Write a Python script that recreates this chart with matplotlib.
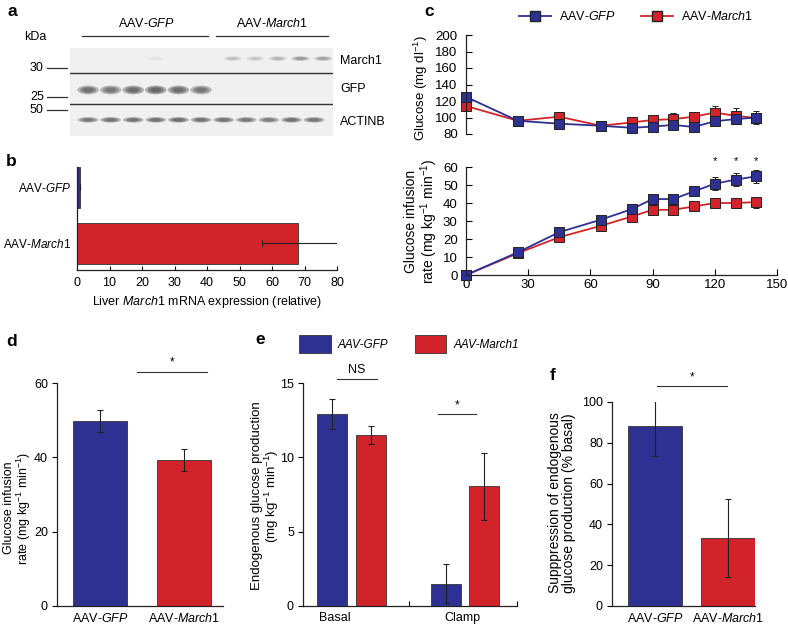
import numpy as np
import matplotlib.pyplot as plt
from matplotlib.patches import Ellipse, Patch
from matplotlib.lines import Line2D

plt.rcParams['font.family'] = ['Liberation Sans', 'DejaVu Sans']
plt.rcParams['mathtext.fontset'] = 'custom'
plt.rcParams['mathtext.rm'] = 'Liberation Sans'
plt.rcParams['mathtext.it'] = 'Liberation Sans:italic'
plt.rcParams['mathtext.bf'] = 'Liberation Sans:bold'
plt.rcParams['axes.linewidth'] = 0.9
plt.rcParams['axes.edgecolor'] = '#222222'

BLUE = '#2e3192'
RED = '#d2232a'
W, H = 788, 626

# ---- data ----
# a: western blot band intensities (6 GFP lanes, 5 March1 lanes)
lanes = np.arange(11)
march1_band = [0, 0, 0, 0.04, 0, 0, 0.22, 0.18, 0.28, 0.45, 0.4]
gfp_band = [0.75, 0.7, 0.8, 0.85, 0.8, 0.7, 0, 0, 0, 0, 0]
actinb_band = [0.7, 0.75, 0.72, 0.75, 0.8, 0.75, 0.75, 0.7, 0.65, 0.75, 0.72]

# b: liver March1 mRNA
mrna_groups = ['AAV-$\\mathit{GFP}$', 'AAV-$\\mathit{March1}$']
mrna_mean = [1.0, 68.0]
mrna_err_lo = [0, 11.0]
mrna_err_hi = [0, 13.0]

# c: clamp time course
time_min = [0, 25, 45, 65, 80, 90, 100, 110, 120, 130, 140]
glu_gfp = [125, 96, 92.5, 90, 87.5, 89, 91, 88.5, 95.5, 98, 100]
glu_gfp_err = [4, 2, 5, 2, 3, 3, 4, 4, 4, 3, 8]
glu_m1 = [114, 96, 101, 90, 94, 97, 98, 101, 106, 102, 99.5]
glu_m1_err = [3, 2, 5, 2, 3, 4, 8, 5, 8, 10, 5]
gir_gfp = [0, 12.6, 23.8, 30.7, 36.6, 42.2, 42.2, 46.5, 50.7, 53, 54.8]
gir_gfp_err = [0.5, 1.5, 2, 2, 2, 2.5, 2.5, 2.5, 3.5, 3.5, 3.5]
gir_m1 = [0, 12.1, 21, 27.3, 32.5, 36.2, 36.2, 38.1, 40, 40, 40.5]
gir_m1_err = [0.5, 1.5, 2, 2, 2, 2.5, 2.5, 2.5, 3, 3, 3]
star_times = [120, 130, 140]

# d: steady-state GIR
gir_groups = ['AAV-$\\mathit{GFP}$', 'AAV-$\\mathit{March1}$']
gir_mean = [49.8, 39.2]
gir_err = [3.0, 3.0]

# e: endogenous glucose production
egp_conditions = ['Basal', 'Clamp']
egp_gfp = [12.9, 1.5]
egp_gfp_err = [1.0, 1.3]
egp_m1 = [11.5, 8.05]
egp_m1_err = [0.6, 2.25]

# f: suppression of EGP
supp_mean = [88.0, 33.3]
supp_err = [14.4, 19.0]


def box(l, t, r, b):
    # pixel box -> figure fraction rect
    return [l / W, 1 - b / H, (r - l) / W, (b - t) / H]


def ftext(x, y, s, **kw):
    fig.text(x / W, 1 - y / H, s, **kw)


fig = plt.figure(figsize=(7.88, 6.26), dpi=100)

ekw = dict(ecolor='#222222', elinewidth=0.8, capsize=2.2, capthick=0.8)

# ---------------- a ----------------
axa = fig.add_axes(box(70, 48, 333, 136))
axa.set_facecolor('#f0f0f0')
axa.set_xlim(-0.8, 10.84)
axa.set_ylim(3, 0)
for s in axa.spines.values():
    s.set_visible(False)
axa.set_xticks([])
axa.set_yticks([])
# each band drawn as a soft stack of ellipses
for i in lanes:
    for k, sc in enumerate([1.0, 0.75, 0.5]):
        axa.add_patch(Ellipse((i + 0.4 * (i > 5), 0.36), 0.8 * sc, 0.16 * sc, color='#404040',
                              alpha=march1_band[i] * 0.45, lw=0))
        axa.add_patch(Ellipse((i, 1.43), 0.95 * sc, 0.3 * sc, color='#404040',
                              alpha=gfp_band[i] * 0.45, lw=0))
        axa.add_patch(Ellipse((i, 2.45), 0.92 * sc, 0.19 * sc, color='#404040',
                              alpha=actinb_band[i] * 0.45, lw=0))
axa.axhline(0.85, color='#333333', lw=1.0)
axa.axhline(1.91, color='#333333', lw=1.0)
for yy, lab in zip([0.68, 1.67, 2.11], ['30', '25', '50']):
    axa.plot([-0.087, -0.011], [1 - yy / 3, 1 - yy / 3], color='#333333', lw=0.9,
             transform=axa.transAxes, clip_on=False)
    axa.text(-0.1, 1 - yy / 3, lab, transform=axa.transAxes, ha='right', va='center', fontsize=9)
axa.plot([-0.27, 5.31], [-0.41, -0.41], color='#333333', lw=0.9, clip_on=False)
axa.plot([5.66, 10.6], [-0.41, -0.41], color='#333333', lw=0.9, clip_on=False)
axa.text(2.6, -0.62, 'AAV-$\\mathit{GFP}$', ha='center', va='bottom', fontsize=9)
axa.text(8.14, -0.62, 'AAV-$\\mathit{March1}$', ha='center', va='bottom', fontsize=9)
for yy, lab in zip([0.44, 1.4, 2.52], ['March1', 'GFP', 'ACTINB']):
    axa.text(11.15, yy, lab, ha='left', va='center', fontsize=9)
ftext(35, 37, 'kDa', ha='center', va='center', fontsize=9)

# ---------------- b ----------------
axb = fig.add_axes(box(77, 167, 337, 270))
axb.barh([1, 0], mrna_mean, height=0.73, color=[BLUE, RED], edgecolor='#333333', lw=0.6,
         xerr=[mrna_err_lo, mrna_err_hi], error_kw=ekw)
axb.set_xlim(0, 80)
axb.set_ylim(-0.48, 1.36)
axb.set_xticks(np.arange(0, 81, 10))
axb.set_yticks([1, 0])
axb.set_yticklabels(mrna_groups)
axb.tick_params(axis='x', direction='in', length=3, labelsize=9, pad=5)
axb.tick_params(axis='y', length=0, labelsize=8.5, pad=4)
axb.spines[['top', 'right']].set_visible(False)
axb.set_xlabel('Liver $\\mathit{March1}$ mRNA expression (relative)', fontsize=9, labelpad=4)

# ---------------- c ----------------
axc1 = fig.add_axes(box(466, 35, 777, 134))
axc2 = fig.add_axes(box(466, 167, 777, 275))
lkw = dict(fmt='-s', ms=7, mec='#222222', mew=0.7, lw=1.3, clip_on=False, **ekw)
axc1.errorbar(time_min, glu_m1, yerr=glu_m1_err, color=RED, mfc=RED, **lkw)
axc1.errorbar(time_min, glu_gfp, yerr=glu_gfp_err, color=BLUE, mfc=BLUE, **lkw)
axc1.set_xlim(0, 150)
axc1.set_ylim(80, 200)
axc1.set_yticks(np.arange(80, 201, 20))
axc1.spines[['top', 'right', 'bottom']].set_visible(False)
axc1.set_xticks([])
axc1.tick_params(axis='y', direction='in', length=4, labelsize=9.5, pad=6)

axc2.errorbar(time_min, gir_m1, yerr=gir_m1_err, color=RED, mfc=RED, **lkw)
axc2.errorbar(time_min, gir_gfp, yerr=gir_gfp_err, color=BLUE, mfc=BLUE, **lkw)
axc2.set_xlim(0, 150)
axc2.set_ylim(0, 60)
axc2.set_xticks(np.arange(0, 151, 30))
axc2.set_yticks(np.arange(0, 61, 10))
axc2.spines[['top', 'right']].set_visible(False)
axc2.tick_params(direction='in', length=4, labelsize=9.5)
axc2.tick_params(axis='y', pad=6)
axc2.tick_params(axis='x', pad=3)
for t in star_times:
    axc2.text(t, 60.5, '*', ha='center', va='bottom', fontsize=8, clip_on=False)

handles = [Line2D([], [], color=BLUE, marker='s', mfc=BLUE, mec='#222222', ms=7, lw=1.3),
           Line2D([], [], color=RED, marker='s', mfc=RED, mec='#222222', ms=7, lw=1.3)]
fig.legend(handles, ['AAV-$\\mathit{GFP}$', 'AAV-$\\mathit{March1}$'], loc='center',
           bbox_to_anchor=(636 / W, 1 - 17 / H), ncol=2, frameon=False, fontsize=9,
           handlelength=2.6, columnspacing=2.0, handletextpad=0.6)

# ---------------- d ----------------
axd = fig.add_axes(box(57, 383, 223, 606))
axd.bar([0, 1], gir_mean, width=0.65, color=[BLUE, RED], edgecolor='#333333', lw=0.6,
        yerr=gir_err, error_kw=ekw)
axd.set_xlim(-0.515, 1.47)
axd.set_ylim(0, 60)
axd.set_yticks([0, 20, 40, 60])
axd.set_xticks([0, 1])
axd.set_xticklabels(gir_groups)
axd.tick_params(axis='y', direction='out', length=3.5, labelsize=9, pad=3)
axd.tick_params(axis='x', length=0, labelsize=9, pad=4)
axd.spines[['top', 'right']].set_visible(False)
axd.plot([0.44, 1.28], [63, 63], color='#333333', lw=0.8, clip_on=False)
axd.text(0.86, 63.8, '*', ha='center', va='bottom', fontsize=8.5)

# ---------------- e ----------------
axe = fig.add_axes(box(303, 383, 517, 606))
pos = np.arange(len(egp_conditions))
axe.bar(pos - 0.17, egp_gfp, width=0.265, color=BLUE, edgecolor='#333333', lw=0.6,
        yerr=egp_gfp_err, error_kw=ekw)
axe.bar(pos + 0.17, egp_m1, width=0.265, color=RED, edgecolor='#333333', lw=0.6,
        yerr=egp_m1_err, error_kw=ekw)
axe.set_xlim(-0.43, 1.46)
axe.set_ylim(0, 15)
axe.set_yticks([0, 5, 10, 15])
axe.set_xticks([0.51, 1.46])
axe.set_xticklabels([])
axe.set_xticks([-0.15, 0.98], minor=True)
axe.set_xticklabels(egp_conditions, minor=True)
axe.tick_params(axis='y', direction='out', length=3.5, labelsize=9, pad=3)
axe.tick_params(axis='x', which='major', direction='in', length=3.5)
axe.tick_params(axis='x', which='minor', length=0, labelsize=9, pad=4)
axe.spines[['top', 'right']].set_visible(False)
axe.plot([-0.13, 0.22], [15.3, 15.3], color='#333333', lw=0.8, clip_on=False)
axe.text(0.045, 15.5, 'NS', ha='center', va='bottom', fontsize=9)
axe.plot([0.76, 1.1], [12.9, 12.9], color='#333333', lw=0.8, clip_on=False)
axe.text(0.93, 13.1, '*', ha='center', va='bottom', fontsize=8.5)
phandles = [Patch(facecolor=BLUE, edgecolor='#333333', lw=0.6),
            Patch(facecolor=RED, edgecolor='#333333', lw=0.6)]
fig.legend(phandles, ['AAV-GFP', 'AAV-March1'], loc='center',
           bbox_to_anchor=(409 / W, 1 - 344 / H), ncol=2, frameon=False,
           prop={'size': 8.5, 'style': 'italic'}, handlelength=2.7, handleheight=2.0,
           columnspacing=2.2, handletextpad=0.6)

# ---------------- f ----------------
axf = fig.add_axes(box(612, 402, 755, 606))
axf.bar([0, 1], supp_mean, width=0.74, color=[BLUE, RED], edgecolor='#333333', lw=0.6,
        yerr=supp_err, error_kw=ekw)
axf.set_xlim(-0.59, 1.37)
axf.set_ylim(0, 100)
axf.set_yticks(np.arange(0, 101, 20))
axf.set_xticks([0, 1])
axf.set_xticklabels(gir_groups)
axf.tick_params(axis='y', direction='out', length=3.5, labelsize=9, pad=3)
axf.tick_params(axis='x', length=0, labelsize=9, pad=4)
axf.spines[['top', 'right']].set_visible(False)
axf.plot([0.03, 0.99], [107.8, 107.8], color='#333333', lw=0.8, clip_on=False)
axf.text(0.51, 109, '*', ha='center', va='bottom', fontsize=8.5)

# ---------------- y labels ----------------
ylkw = dict(rotation=90, ha='center', va='center', multialignment='center', linespacing=1.05)
ftext(421, 88, 'Glucose (mg dl$^{-1}$)', fontsize=9.5, **ylkw)
ftext(422, 221, 'Glucose infusion\nrate (mg kg$^{-1}$ min$^{-1}$)', fontsize=10, **ylkw)
ftext(18, 508, 'Glucose infusion\nrate (mg kg$^{-1}$ min$^{-1}$)', fontsize=9, **ylkw)
ftext(266, 496, 'Endogenous glucose production\n(mg kg$^{-1}$ min$^{-1}$)', fontsize=9.5, **ylkw)
ftext(562, 503, 'Supppression of endogenous\nglucose production (% basal)', fontsize=10, **ylkw)

# ---------------- panel letters ----------------
for x, y, s in [(8, 12, 'a'), (6, 162, 'b'), (424, 12, 'c'), (6, 342, 'd'),
                (255, 340, 'e'), (550, 376, 'f')]:
    ftext(x, y, s, fontsize=12.5, fontweight='bold', ha='left', va='center')

fig.savefig('out.png', dpi=100)
